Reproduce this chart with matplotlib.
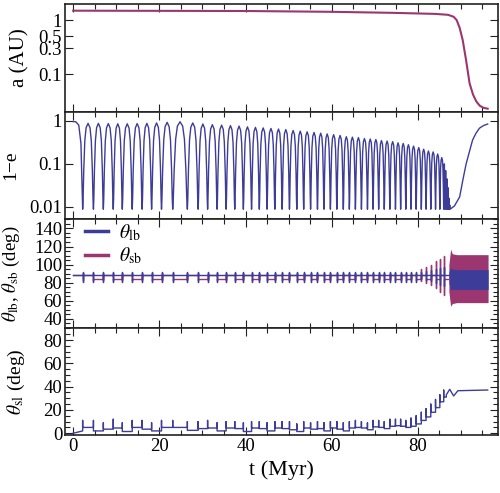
import numpy as np
import matplotlib
matplotlib.use('Agg')
import matplotlib.pyplot as plt
from matplotlib.ticker import FixedLocator, NullLocator, MultipleLocator, FixedFormatter

plt.rcParams['font.family'] = ['Liberation Serif', 'DejaVu Serif']
plt.rcParams['mathtext.fontset'] = 'stix'

BLUE = '#3d3d99'
PURPLE = '#9b3670'

# ---- data ----
# semi-major axis (AU)
a_t = [0, 40, 60, 74, 84, 87, 88.3, 89, 89.7, 90.4, 91.2, 92, 92.8, 93.6, 94.4, 95.2, 96.2]
a_val = [1.49, 1.47, 1.42, 1.36, 1.3, 1.25, 1.15, 1.0, 0.72, 0.43, 0.18, 0.068, 0.042,
         0.031, 0.026, 0.024, 0.023]

# times of the 1-e minima (Myr)
t_min = [2.2, 4.7, 7.0, 9.3, 11.4, 13.7, 16.0, 18.2, 20.5, 23.1, 26.5, 29.0, 31.2, 33.4,
         35.5, 37.5, 39.5, 41.4, 43.2, 45.0, 46.8, 48.5, 50.2, 51.9, 53.5, 55.1, 56.7,
         58.2, 59.7, 61.2, 62.7, 64.1, 65.5, 66.9, 68.3, 69.6, 70.9, 72.2, 73.5, 74.8,
         76.0, 77.2, 78.4, 79.6, 80.8, 81.9, 83.0, 84.1, 85.1, 86.0]
# peak of 1-e between consecutive minima
e_peak = [0.88, 0.88, 0.87, 0.86, 0.86, 0.87, 0.88, 0.90, 0.93, 0.96, 0.90, 0.85, 0.82,
          0.80, 0.78, 0.76, 0.73, 0.71, 0.69, 0.67, 0.65, 0.63, 0.60, 0.58, 0.56, 0.54,
          0.52, 0.50, 0.48, 0.46, 0.43, 0.42, 0.41, 0.39, 0.38, 0.37, 0.35, 0.34, 0.33,
          0.31, 0.30, 0.28, 0.26, 0.24, 0.22, 0.20, 0.19, 0.17, 0.14]
e_floor = 0.0088
# fast oscillations before the collapse
dense_min = [86.3, 86.6, 86.85, 87.1, 87.3, 87.5]
dense_peak = [0.10, 0.07, 0.045, 0.028, 0.016, 0.011]
# smooth rise after the collapse
rise_t = [87.5, 88.5, 89.7, 90.5, 91.2, 92.0, 92.7, 93.5, 94.3, 95.2, 96.2]
rise_val = [0.0085, 0.0105, 0.017, 0.045, 0.10, 0.20, 0.36, 0.52, 0.68, 0.78, 0.85]
arch_phase = [0.0, 0.04, 0.10, 0.20, 0.32, 0.5, 0.68, 0.80, 0.90, 0.96, 1.0]
arch_frac = [0.0, 0.12, 0.45, 0.80, 0.95, 1.0, 0.95, 0.80, 0.45, 0.12, 0.0]

# theta_lb / theta_sb (deg)
lb_level = 88.8
lb_spike = (81.0, 92.3)
sb_levels = [88.5, 84.5]
sb_spike = (82.5, 91.0)
late_k = [44, 45, 46, 47, 48, 49]
late_sb_hi = [95, 97, 100, 104, 106, 110]
late_sb_lo = [82, 80, 77, 74, 70, 66]
late_lb_hi = [92, 93, 94, 95, 96, 97]
late_lb_lo = [84, 83, 82, 80, 78, 76]
band_t = [87.2, 87.6, 88.0, 89.0, 92.0, 96.3]
sb_band_hi = [100, 117, 112, 111, 111, 111]
sb_band_lo = [70, 54, 57, 58, 58, 58]
lb_band_hi = [92, 97, 95, 94.5, 94.5, 94.5]
lb_band_lo = [80, 72, 72.5, 72.5, 72.5, 72.5]

# theta_sl (deg): level between spikes and spike tops
sl_start = [0.0, 2.0]
sl_level = [5, 2, 3.5, 4.5, 1.5, 5, 3.5, 2, 5, 5, 2.5, 4, 4.5, 2, 4.5, 4, 1.5,
            4.5, 4, 2, 4.5, 4, 3, 1.5, 4.5, 3.5, 4, 2, 4.5, 3.5, 2, 4.5, 5, 4.5,
            3, 5.5, 5, 4, 6, 6.5, 6, 5, 6, 8, 11, 14, 18, 22, 27, 31]
sl_top = [11, 11, 9, 12, 9, 11, 11, 9, 11, 11, 10, 10, 11, 9, 10, 10, 9,
          10, 10, 9, 10, 10, 10, 8, 10, 9, 10, 9, 10, 10, 9, 10, 11, 10,
          9, 11, 11, 10, 12, 12, 12, 11, 13, 15, 18, 21, 25, 29, 33, 37]
sl_end_t = [86.6, 87.4, 88.3, 89.3, 96.2]
sl_end = [33, 37.7, 32, 36.5, 37.1]

t_ticks = [0, 20, 40, 60, 80]


def one_minus_e():
    tt = [0.0, 0.6, 1.3, 1.8, t_min[0]]
    vv = [0.97, 0.96, 0.8, 0.3, e_floor]
    lf = np.log10(e_floor)
    for k in range(len(t_min) - 1):
        t0, t1 = t_min[k], t_min[k + 1]
        lp = np.log10(e_peak[k])
        for ph, fr in zip(arch_phase[1:], arch_frac[1:]):
            tt.append(t0 + ph * (t1 - t0))
            vv.append(10 ** (lf + fr * (lp - lf)))
    prev = t_min[-1]
    for tm, pk in zip(dense_min, dense_peak):
        tt += [(prev + tm) / 2, tm]
        vv += [pk, e_floor]
        prev = tm
    tt += rise_t[1:]
    vv += rise_val[1:]
    return tt, vv


def theta_curves():
    lb_t, lb_v, sb_t, sb_v = [0.0], [lb_level], [0.0], [sb_levels[0]]
    for k, tk in enumerate(t_min):
        if k in late_k:
            j = late_k.index(k)
            lb_t += [tk, tk, tk, tk]
            lb_v += [lb_level, late_lb_hi[j], late_lb_lo[j], lb_level]
            sb_t += [tk, tk, tk, tk]
            sb_v += [sb_v[-1], late_sb_hi[j], late_sb_lo[j], sb_levels[k % 2]]
        else:
            lb_t += [tk, tk, tk, tk]
            lb_v += [lb_level, lb_spike[1], lb_spike[0], lb_level]
            sb_t += [tk, tk, tk, tk]
            sb_v += [sb_v[-1], sb_spike[1], sb_spike[0], sb_levels[k % 2]]
    lb_t.append(band_t[0])
    lb_v.append(lb_level)
    sb_t.append(band_t[0])
    sb_v.append(sb_v[-1])
    return lb_t, lb_v, sb_t, sb_v


def theta_sl():
    tt = [0.0, t_min[0]]
    vv = list(sl_start)
    for k, tk in enumerate(t_min):
        tt += [tk, tk, tk]
        vv += [vv[-1], sl_top[k], sl_level[k]]
        nxt = t_min[k + 1] if k + 1 < len(t_min) else sl_end_t[0]
        tt.append(nxt)
        vv.append(sl_level[k])
    tt += sl_end_t
    vv += sl_end
    return tt, vv


fig = plt.figure(figsize=(5.0, 4.93), dpi=100)
bounds = [4, 112, 219, 328, 435]
axes = []
for i in range(4):
    top = 1 - bounds[i] / 493
    bot = 1 - bounds[i + 1] / 493
    ax = fig.add_axes([65 / 500, bot, 433 / 500, top - bot])
    axes.append(ax)

for ax in axes:
    ax.set_xlim(-1.9, 98.6)
    ax.xaxis.set_major_locator(FixedLocator(t_ticks))
    ax.xaxis.set_minor_locator(MultipleLocator(5))
    ax.tick_params(which='both', direction='in', top=True, right=True, labelsize=13.5,
                   width=0.8, color='#222222', pad=2)
    ax.tick_params(which='major', length=6)
    ax.tick_params(which='minor', length=3.5)
    for s in ax.spines.values():
        s.set_linewidth(1.2)
        s.set_color('#222222')
    if ax is not axes[-1]:
        ax.tick_params(labelbottom=False)

# panel 1
ax = axes[0]
ax.plot(a_t, a_val, color=PURPLE, lw=1.5)
ax.set_yscale('log')
ax.set_ylim(0.02, 1.98)
ax.yaxis.set_major_locator(FixedLocator([1, 0.5, 0.3, 0.1]))
ax.yaxis.set_major_formatter(FixedFormatter(['1', '0.5', '0.3', '0.1']))
ax.yaxis.set_minor_locator(NullLocator())
ax.set_ylabel('a (AU)', fontsize=15)
ax.yaxis.set_label_coords(-0.081, 0.5)

# panel 2
ax = axes[1]
et, ev = one_minus_e()
ax.plot(et, ev, color=BLUE, lw=1.0)
ax.set_yscale('log')
ax.set_ylim(0.0052, 1.62)
ax.yaxis.set_major_locator(FixedLocator([1, 0.1, 0.01]))
ax.yaxis.set_major_formatter(FixedFormatter(['1', '0.1', '0.01']))
ax.yaxis.set_minor_locator(NullLocator())
ax.set_ylabel('1\u2212e', fontsize=14)
ax.yaxis.set_label_coords(-0.105, 0.5)

# panel 3
ax = axes[2]
lb_t, lb_v, sb_t, sb_v = theta_curves()
ax.fill_between(band_t, sb_band_lo, sb_band_hi, color=PURPLE, lw=0)
ax.fill_between(band_t, lb_band_lo, lb_band_hi, color=BLUE, lw=0)
ax.plot(sb_t, sb_v, color=PURPLE, lw=1.0, label=r'$\theta_{\rm sb}$')
ax.plot(lb_t, lb_v, color=BLUE, lw=1.0, label=r'$\theta_{\rm lb}$')
ax.set_ylim(30, 150.4)
ax.set_yticks([40, 60, 80, 100, 120, 140])
ax.yaxis.set_minor_locator(MultipleLocator(5))
h, l = ax.get_legend_handles_labels()
leg = ax.legend(h[::-1], l[::-1], loc='upper left', bbox_to_anchor=(0.02, 1.08),
                frameon=False, fontsize=14, handlelength=1.15, handletextpad=0.6,
                borderaxespad=0.2, labelspacing=0.15)
for ln in leg.get_lines():
    ln.set_linewidth(2.5)
ax.set_ylabel(r'$\theta_{\rm lb}$, $\theta_{\rm sb}$ (deg)', fontsize=13.5)
ax.yaxis.set_label_coords(-0.1, 0.5)

# panel 4
ax = axes[3]
st, sv = theta_sl()
ax.plot(st, sv, color=BLUE, lw=1.0)
ax.set_ylim(-1.5, 90.3)
ax.yaxis.set_major_locator(MultipleLocator(20))
ax.yaxis.set_minor_locator(MultipleLocator(5))
ax.set_ylabel(r'$\theta_{\rm sl}$ (deg)', fontsize=14)
ax.yaxis.set_label_coords(-0.088, 0.5)
ax.set_xlabel('t (Myr)', fontsize=16)

fig.savefig('out.png', dpi=100)
